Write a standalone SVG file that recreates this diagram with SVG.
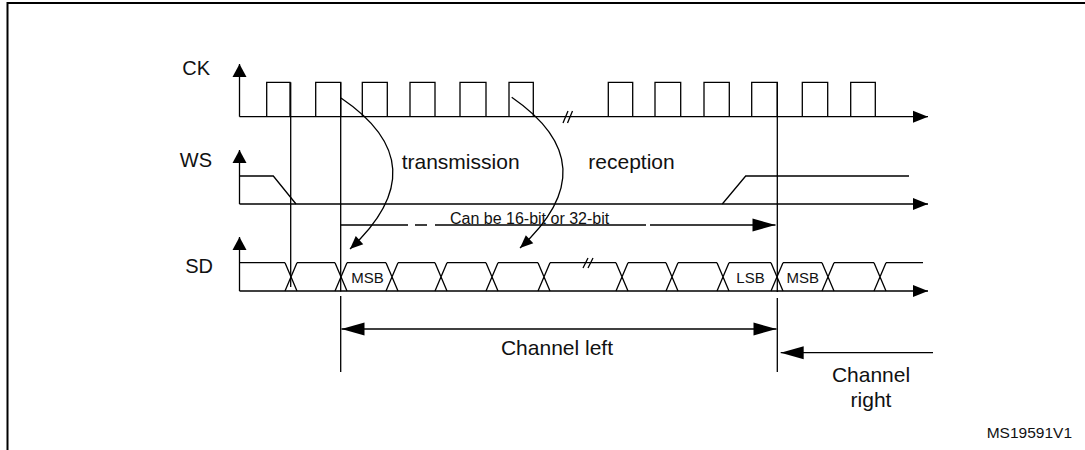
<svg xmlns="http://www.w3.org/2000/svg" width="1085" height="450" viewBox="0 0 1085 450">
<style>
.w{fill:none;stroke:#000;stroke-width:1.3}
.t{font-family:"Liberation Sans",Arial,sans-serif;fill:#111}
.lab{font-size:20px}
.big{font-size:21px}
.sm{font-size:15px}
</style>
<defs>
<marker id="up" markerUnits="userSpaceOnUse" orient="auto" overflow="visible" markerWidth="1" markerHeight="1"><path d="M0,0 L-13,-7 L-13,7 Z" fill="#000"/></marker>
<marker id="ax" markerUnits="userSpaceOnUse" orient="auto" overflow="visible" markerWidth="1" markerHeight="1"><path d="M0,0 L-15,-6 L-15,6 Z" fill="#000"/></marker>
<marker id="bg" markerUnits="userSpaceOnUse" orient="auto-start-reverse" overflow="visible" markerWidth="1" markerHeight="1"><path d="M0,0 L-23,-6.5 L-23,6.5 Z" fill="#000"/></marker>
<marker id="cv" markerUnits="userSpaceOnUse" orient="auto" overflow="visible" markerWidth="1" markerHeight="1"><path d="M0,0 L-13,-5.5 L-13,5.5 Z" fill="#000"/></marker>
</defs>
<rect width="1085" height="450" fill="#fff"/>
<path d="M7.5,450 V3 H1085" fill="none" stroke="#000" stroke-width="2"/>

<g id="ck">
<text class="t lab" x="210" y="75" text-anchor="end">CK</text>
<path class="w" d="M239.5,116.7 V64" marker-end="url(#up)"/>
<path class="w" d="M239.5,116.7 H928" marker-end="url(#ax)"/>
<path class="w" d="M266.7,116.7 V82.3 H290 V116.7 M315.7,116.7 V82.3 H340.7 V116.7 M362.3,116.7 V82.3 H387.3 V116.7 M410,116.7 V82.3 H435 V116.7 M460,116.7 V82.3 H486 V116.7 M509,116.7 V82.3 H533.3 V116.7 M608.3,116.7 V82.3 H632.7 V116.7 M655,116.7 V82.3 H680.7 V116.7 M704,116.7 V82.3 H729.3 V116.7 M751.7,116.7 V82.3 H777.3 V116.7 M802.3,116.7 V82.3 H827.7 V116.7 M850.7,116.7 V82.3 H875.3 V116.7"/>
<path class="w" d="M563,123 L568,111 M567.5,123 L572.5,111"/>
</g>

<g id="ws">
<text class="t lab" x="212" y="166.7" text-anchor="end">WS</text>
<path class="w" d="M239.5,204 V150" marker-end="url(#up)"/>
<path class="w" d="M239.5,204 H928" marker-end="url(#ax)"/>
<path class="w" d="M239.5,176 H273.3 L296,204 M722.3,204 L745.7,176 H909"/>
</g>

<g id="sd">
<text class="t lab" x="213" y="273.3" text-anchor="end">SD</text>
<path class="w" d="M239.5,291 V237" marker-end="url(#up)"/>
<path class="w" d="M239.5,291 H928" marker-end="url(#ax)"/>
<path class="w" d="M239.5,262.7 H285 M297,262.7 H335 M347,262.7 H386 M398,262.7 H435 M447,262.7 H486 M498,262.7 H538 M550,262.7 H616 M628,262.7 H666 M678,262.7 H717 M729,262.7 H771 M783,262.7 H822 M834,262.7 H874 M886,262.7 H923"/>
<path class="w" d="M285,262.7 L297,291 M285,291 L297,262.7 M335,262.7 L347,291 M335,291 L347,262.7 M386,262.7 L398,291 M386,291 L398,262.7 M435,262.7 L447,291 M435,291 L447,262.7 M486,262.7 L498,291 M486,291 L498,262.7 M538,262.7 L550,291 M538,291 L550,262.7 M616,262.7 L628,291 M616,291 L628,262.7 M666,262.7 L678,291 M666,291 L678,262.7 M717,262.7 L729,291 M717,291 L729,262.7 M771,262.7 L783,291 M771,291 L783,262.7 M822,262.7 L834,291 M822,291 L834,262.7 M874,262.7 L886,291 M874,291 L886,262.7"/>
<path class="w" d="M583,268 L588,258 M588,268 L593,258"/>
<text class="t sm" x="367.5" y="283" text-anchor="middle">MSB</text>
<text class="t sm" x="750.5" y="283" text-anchor="middle">LSB</text>
<text class="t sm" x="802.7" y="283" text-anchor="middle">MSB</text>
</g>

<g id="connectors">
<path class="w" d="M290.7,82.3 V287"/>
<path class="w" d="M340.7,82.3 V291.5 M340.7,296 V372"/>
<path class="w" d="M777.3,82.3 V292 M777.3,298 V372"/>
<path class="w" d="M341,98 Q440,165 350,249" marker-end="url(#cv)"/>
<path class="w" d="M511.7,97.3 Q610,165 520,248" marker-end="url(#cv)"/>
<path class="w" d="M340.7,225 H408 M415,225 H427 M435,225 H646 M650,225 H775.5" marker-end="url(#bg)"/>
<path class="w" d="M341.5,329 H776.5" marker-start="url(#bg)" marker-end="url(#bg)"/>
<path class="w" d="M933,352.7 H780.7" marker-end="url(#bg)"/>
</g>

<g id="labels">
<text class="t big" x="401.7" y="169.3">transmission</text>
<text class="t big" x="588.3" y="168.5">reception</text>
<text class="t" font-size="16" x="450" y="223.5">Can be 16-bit or 32-bit</text>
<text class="t big" x="557" y="355" text-anchor="middle">Channel left</text>
<text class="t big" text-anchor="middle"><tspan x="871" y="382">Channel</tspan><tspan x="871" y="407">right</tspan></text>
<text class="t" font-size="15.5" x="986.7" y="438.3">MS19591V1</text>
</g>
</svg>
